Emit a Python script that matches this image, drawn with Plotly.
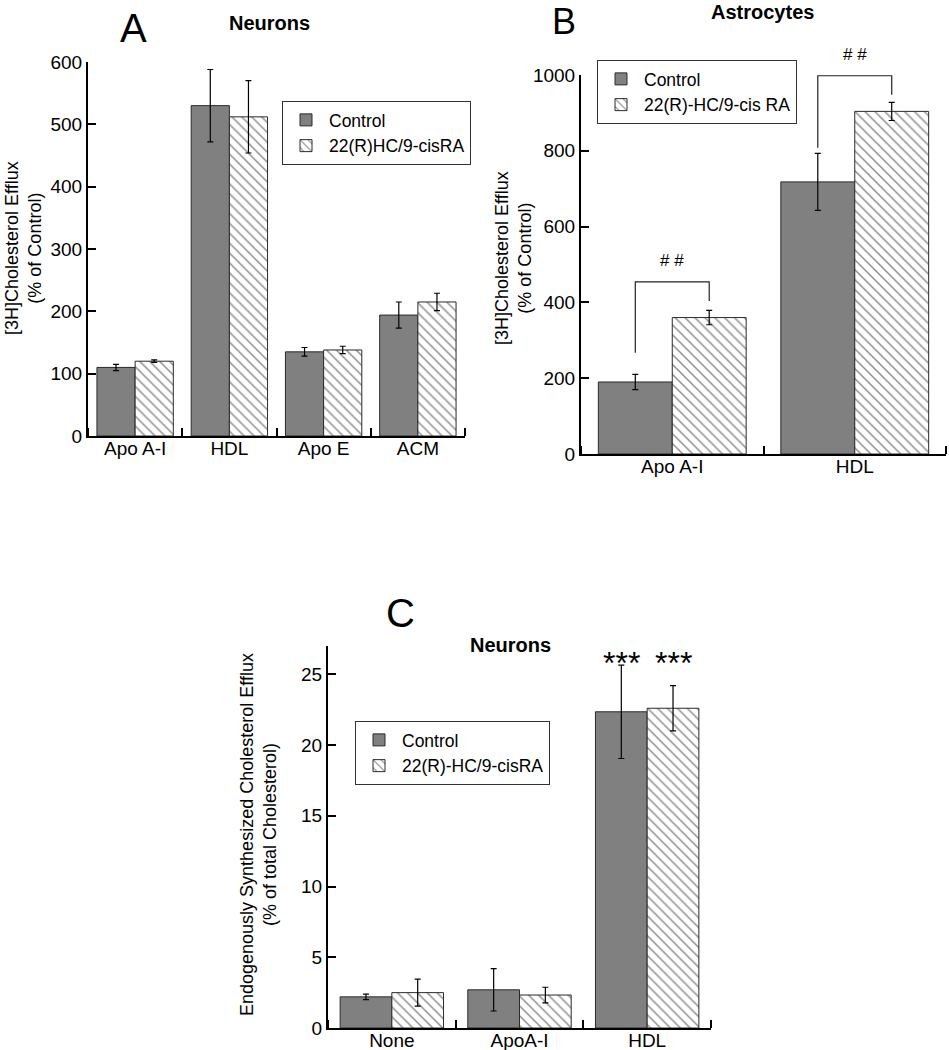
import plotly.graph_objects as go

# ---------------- data ----------------
a_categories = ["Apo A-I", "HDL", "Apo E", "ACM"]
a_control = [110, 530, 135, 194]
a_control_err = [5, 58, 7, 21]
a_treat = [120, 512, 138, 215]
a_treat_err = [2, 58, 6, 14]

b_categories = ["Apo A-I", "HDL"]
b_control = [190, 718]
b_control_err = [20, 75]
b_treat = [360, 904]
b_treat_err = [19, 24]
b_bracket_top = [454, 998]
b_bracket_left_bottom = [267, 808]
b_bracket_right_bottom = [404, 948]

c_categories = ["None", "ApoA-I", "HDL"]
c_control = [2.2, 2.7, 22.35]
c_control_err = [0.2, 1.5, 3.3]
c_treat = [2.5, 2.33, 22.6]
c_treat_err = [0.95, 0.55, 1.6]

W, H = 949, 1050
FONT = "Liberation Sans, Arial, sans-serif"
CTRL_COLOR = "#808080"
OUTLINE = "#2a2a2a"
BARGAP = 0.19


def px_x(p):
    return p / W


def px_y(p):
    return 1 - p / H


fig = go.Figure()


def add_pair(cats, ctrl, ctrl_err, trt, trt_err, names, xa, ya, legend):
    xs = list(range(len(cats)))
    fig.add_trace(go.Bar(
        x=xs, y=ctrl, name=names[0], xaxis=xa, yaxis=ya, legend=legend,
        marker=dict(color=CTRL_COLOR, line=dict(color=OUTLINE, width=1)),
        error_y=dict(type="data", array=ctrl_err, color="black", thickness=1.2, width=3),
        offsetgroup="c",
    ))
    fig.add_trace(go.Bar(
        x=xs, y=trt, name=names[1], xaxis=xa, yaxis=ya, legend=legend,
        marker=dict(color="white", line=dict(color=OUTLINE, width=1),
                    pattern=dict(shape="\\", fgcolor="#111111", bgcolor="white",
                                 size=7, solidity=0.2)),
        error_y=dict(type="data", array=trt_err, color="black", thickness=1.2, width=3),
        offsetgroup="t",
    ))


add_pair(a_categories, a_control, a_control_err, a_treat, a_treat_err,
         ["Control", "22(R)HC/9-cisRA"], "x", "y", "legend")
add_pair(b_categories, b_control, b_control_err, b_treat, b_treat_err,
         ["Control", "22(R)-HC/9-cis RA"], "x2", "y2", "legend2")
add_pair(c_categories, c_control, c_control_err, c_treat, c_treat_err,
         ["Control", "22(R)-HC/9-cisRA"], "x3", "y3", "legend3")


def xaxis(cats, domain, anchor):
    n = len(cats)
    return dict(
        domain=domain, range=[-0.5, n - 0.5], tickmode="array",
        tickvals=list(range(n)), ticktext=cats, ticks="", showgrid=False,
        zeroline=False, showline=True, linecolor="black", linewidth=2,
        tickfont=dict(family=FONT, size=19, color="black"), anchor=anchor,
        ticklabelstandoff=-6,
        minor=dict(ticks="inside", tick0=0.5, dtick=1, ticklen=8,
                   tickwidth=2, tickcolor="black", showgrid=False),
        fixedrange=True, automargin=False,
    )


def yaxis(rng, dtick, domain, anchor):
    return dict(
        domain=domain, range=rng, dtick=dtick, tick0=0, ticks="inside",
        ticklen=8, tickwidth=2, tickcolor="black", showgrid=False,
        zeroline=False, showline=True, linecolor="black", linewidth=2,
        tickfont=dict(family=FONT, size=19, color="black"), anchor=anchor,
        fixedrange=True, automargin=False,
    )


layout = dict(
    width=W, height=H,
    margin=dict(l=0, r=0, t=0, b=0, pad=0, autoexpand=False),
    paper_bgcolor="white", plot_bgcolor="white",
    barmode="group", bargap=BARGAP, bargroupgap=0,
    font=dict(family=FONT, color="black"),
    xaxis=xaxis(a_categories, [px_x(88), px_x(465)], "y"),
    yaxis=yaxis([0, 600], 100, [px_y(436), px_y(62)], "x"),
    xaxis2=xaxis(b_categories, [px_x(581), px_x(946)], "y2"),
    yaxis2=yaxis([0, 1000], 200, [px_y(454), px_y(75)], "x2"),
    xaxis3=xaxis(c_categories, [px_x(328), px_x(711)], "y3"),
    yaxis3=yaxis([0, 27], 5, [px_y(1028), px_y(646)], "x3"),
)


def legend(x, y):
    return dict(
        x=px_x(x), y=px_y(y), xanchor="left", yanchor="top",
        bordercolor="#333333", borderwidth=1, bgcolor="white",
        font=dict(family=FONT, size=17.5, color="black"),
        tracegroupgap=0, itemwidth=36,
    )


layout["legend"] = legend(282, 101)
layout["legend2"] = legend(597, 60)
layout["legend3"] = legend(355, 721)

fig.update_layout(**layout)

ann = []


def text(x, y, s, size, bold=False, angle=0):
    ann.append(dict(
        x=px_x(x), y=px_y(y), xref="paper", yref="paper",
        text=("<b>" + s + "</b>") if bold else s,
        showarrow=False, textangle=angle, xanchor="center", yanchor="middle",
        font=dict(family=FONT, size=size, color="black"),
    ))


# panel letters and titles
text(133, 28, "A", 40)
text(269, 23, "Neurons", 20, bold=True)
text(564, 21, "B", 36)
text(762, 12, "Astrocytes", 20, bold=True)
text(400, 613, "C", 40)
text(510, 645, "Neurons", 20, bold=True)

# y-axis titles
text(24, 248, "[3H]Cholesterol Efflux<br>(% of Control)", 18, angle=-90)
text(513, 258, "[3H]Cholesterol Efflux<br>(% of Control)", 18, angle=-90)
text(258, 835, "Endogenously Synthesized Cholesterol Efflux<br>(% of total Cholesterol)", 18, angle=-90)

# significance brackets in panel B
half = (1 - BARGAP) / 4
shapes = []
for i in range(len(b_categories)):
    xl = i - half
    xr = i + half
    shapes.append(dict(
        type="path", xref="x2", yref="y2",
        path=f"M {xl} {b_bracket_left_bottom[i]} L {xl} {b_bracket_top[i]} "
             f"L {xr} {b_bracket_top[i]} L {xr} {b_bracket_right_bottom[i]}",
        line=dict(color="#222222", width=1.2),
    ))
    ann.append(dict(
        x=i, y=b_bracket_top[i], xref="x2", yref="y2", text="# #",
        showarrow=False, yanchor="bottom", yshift=10,
        font=dict(family=FONT, size=17, color="black"),
    ))

# *** in panel C above HDL
for off in (-half, half):
    ann.append(dict(
        x=2 + off, y=26.2, xref="x3", yref="y3", text="***",
        showarrow=False, yanchor="middle", yshift=-6,
        font=dict(family=FONT, size=32, color="black"),
    ))

fig.update_layout(annotations=ann, shapes=shapes)

fig.write_html(
    "out.html",
    config={"displayModeBar": False, "staticPlot": True},
    post_script="document.body.style.margin='0px';document.body.style.overflow='hidden';",
)
